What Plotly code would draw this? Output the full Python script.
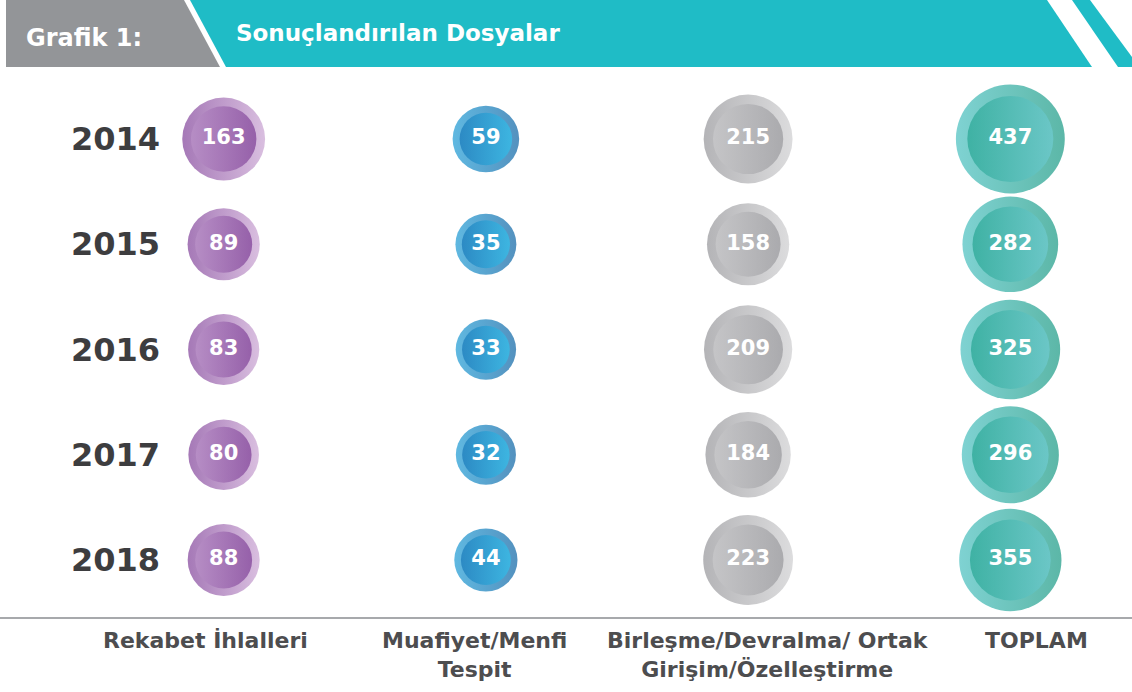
import plotly.graph_objects as go

# ── Data ──────────────────────────────────────────────────────────────────────
years = ["2014", "2015", "2016", "2017", "2018"]
categories = [
    "Rekabet İhlalleri",
    "Muafiyet/Menfi<br>Tespit",
    "Birleşme/Devralma/ Ortak<br>Girişim/Özelleştirme",
    "TOPLAM",
]
rekabet = [163, 89, 83, 80, 88]
muafiyet = [59, 35, 33, 32, 44]
birlesme = [215, 158, 209, 184, 223]
toplam = [437, 282, 325, 296, 355]

series = [rekabet, muafiyet, birlesme, toplam]

# outer ring (left -> right), inner disc (left -> right)
palette = [
    (("#7f3f98", "#c9a3d2"), ("#bb93c9", "#7b3b94")),
    (("#1b9ad4", "#0a62a3"), ("#1778b9", "#33c3ee")),
    (("#949498", "#cdcdcf"), ("#cacacc", "#97979b")),
    (("#48bfbf", "#169882"), ("#25a592", "#70ccd2")),
]

W, H_PLOT = 1132, 617
FONT = "DejaVu Sans"
LABEL = "#4d4d4f"


def diam(v):
    # bubble diameter grows with sqrt of the value
    return 42 + 3.2 * v ** 0.5


def px(x, y):
    return f"{x / W:.5f},{1 - y / H_PLOT:.5f}"


fig = go.Figure()

for cat, vals, (outer, inner) in zip(categories, series, palette):
    sizes = [diam(v) for v in vals]
    fig.add_trace(go.Scatter(
        x=[cat] * len(years), y=years, mode="markers", hoverinfo="skip",
        marker=dict(size=sizes, color=outer[0], line=dict(width=0),
                    gradient=dict(type="horizontal", color=outer[1])),
    ))
    fig.add_trace(go.Scatter(
        x=[cat] * len(years), y=years, mode="markers+text", hoverinfo="skip",
        text=[str(v) for v in vals], textposition="middle center",
        textfont=dict(family=FONT, size=21, color="white", weight="bold"),
        marker=dict(size=[s * 0.79 for s in sizes], color=inner[0], line=dict(width=0),
                    gradient=dict(type="horizontal", color=inner[1])),
    ))

# ── Header band ──────────────────────────────────────────────────────────────
shapes = [
    dict(path=f"M{px(6, 0)} L{px(184, 0)} L{px(220, 67)} L{px(6, 67)} Z",
         fillcolor="#939598"),
    dict(path=f"M{px(190, 0)} L{px(1047, 0)} L{px(1092, 67)} L{px(226, 67)} Z",
         fillcolor="#1fbcc6"),
    dict(path=f"M{px(1072, 0)} L{px(1090, 0)} L{px(1132, 57)} L{px(1132, 67)} L{px(1118, 67)} Z",
         fillcolor="#1fbcc6"),
]
for s in shapes:
    s.update(type="path", xref="paper", yref="paper", line=dict(width=0), layer="below")

annotations = [
    dict(text="Grafik 1:", x=24 / W, y=1 - 38 / H_PLOT, xref="paper", yref="paper",
         xanchor="left", yanchor="middle", showarrow=False,
         font=dict(family=FONT, size=24, color="white", weight="bold")),
    dict(text="Sonuçlandırılan Dosyalar", x=234 / W, y=1 - 33 / H_PLOT,
         xref="paper", yref="paper", xanchor="left", yanchor="middle", showarrow=False,
         font=dict(family=FONT, size=23, color="white", weight="bold")),
]
# category labels under the baseline, nudged to where the original sets them
for cat, dx in zip(categories, [-18, -11, 20, 26]):
    annotations.append(dict(
        text=cat, x=cat, xref="x", y=0, yref="paper", yanchor="top", yshift=-9,
        xshift=dx, showarrow=False, align="center",
        font=dict(family=FONT, size=22, color=LABEL, weight="bold"),
    ))

fig.update_layout(
    width=1132, height=692,
    margin=dict(l=0, r=0, t=0, b=75),
    paper_bgcolor="white", plot_bgcolor="white",
    showlegend=False,
    shapes=shapes,
    annotations=annotations,
    xaxis=dict(
        type="category", categoryorder="array", categoryarray=categories,
        range=[-0.853, 3.464], showgrid=False, zeroline=False,
        showline=True, linecolor="#a7a9ac", linewidth=2,
        ticks="", showticklabels=False, fixedrange=True,
    ),
    yaxis=dict(
        type="category", categoryorder="array", categoryarray=years,
        range=[4.5416, -1.3207], showgrid=False, zeroline=False, showline=False,
        ticks="", ticklabelposition="inside", ticklabelstandoff=68, fixedrange=True,
        tickfont=dict(family=FONT, size=32, color="#3d3d3f", weight="bold"),
    ),
)

fig.write_html(
    "out.html",
    config={"displayModeBar": False},
    post_script="document.body.style.margin='0';",
)
